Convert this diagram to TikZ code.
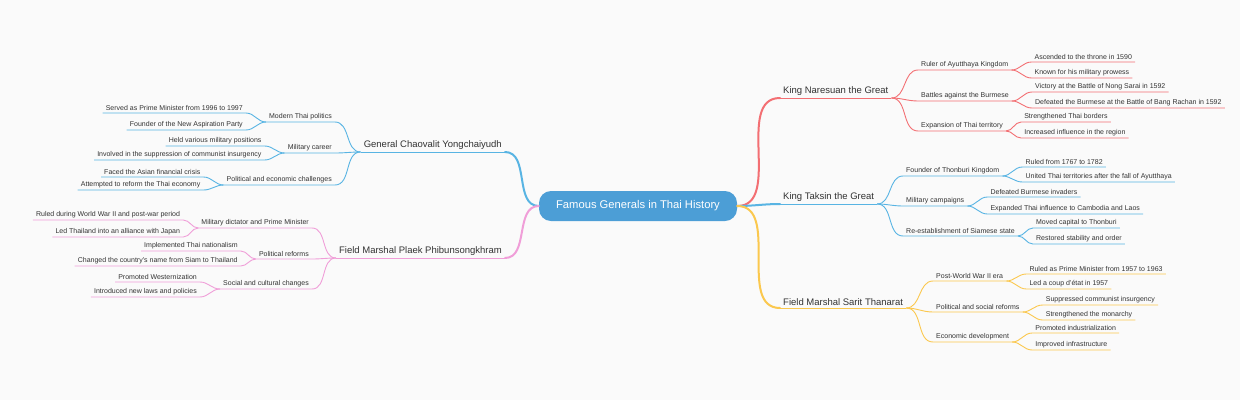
\documentclass[tikz,border=0pt]{standalone}
\usepackage{fontspec}
\setmainfont{Liberation Sans}
\usetikzlibrary{calc,positioning}

\definecolor{naresuan}{HTML}{F36F73}
\definecolor{taksin}{HTML}{58B4E3}
\definecolor{sarit}{HTML}{FBC84E}
\definecolor{plaek}{HTML}{F09ED8}
\definecolor{hub}{HTML}{4C9ED6}

% right-hand and left-hand links: curve from parent, then underline of child
\newcommand{\rlink}[3]{\draw[#1] (#2.south east) to[out=0,in=180] (#3.south west) -- (#3.south east);}
\newcommand{\llink}[3]{\draw[#1] (#2.south west) to[out=180,in=0] (#3.south east) -- (#3.south west);}

\begin{document}
\begin{tikzpicture}[x=1pt, y=-1pt,
    topic/.style={font=\fontsize{9.5}{11}\selectfont, text=black!80, inner xsep=3pt, inner ysep=2.5pt},
    item/.style={font=\fontsize{7}{8}\selectfont, text=black!80, inner xsep=3pt, inner ysep=2pt},
    trunk/.style={line width=2pt, line cap=round},
    twig/.style={line width=0.9pt}]
    \fill[black!2] (0,0) rectangle (1240,400);
    \useasboundingbox (0,0) rectangle (1240,400);

    % Center
    \node[rounded corners=12pt, fill=hub, text=white, minimum width=198pt, minimum height=30pt,
          font=\fontsize{11.2}{13}\selectfont] (title) at (638,206) {Famous Generals in Thai History};

    % King Naresuan the Great
    \node[topic, anchor=south west] (nar) at (780,98) {King Naresuan the Great};
    \draw[naresuan, trunk] (title.east) to[out=0,in=180] (nar.south west);
    \draw[naresuan, twig] (nar.south west) -- (nar.south east);
    \node[item, anchor=south west] (nar1) at (918,70) {Ruler of Ayutthaya Kingdom};
    \node[item, anchor=south west] (nar2) at (918,101) {Battles against the Burmese};
    \node[item, anchor=south west] (nar3) at (918,131) {Expansion of Thai territory};
    \node[item, anchor=south west] (nar1a) at ($(nar1.south east)+(20,-8)$) {Ascended to the throne in 1590};
    \node[item, anchor=south west] (nar1b) at ($(nar1.south east)+(20,8)$) {Known for his military prowess};
    \node[item, anchor=south west] (nar2a) at ($(nar2.south east)+(20,-9)$) {Victory at the Battle of Nong Sarai in 1592};
    \node[item, anchor=south west] (nar2b) at ($(nar2.south east)+(20,7)$) {Defeated the Burmese at the Battle of Bang Rachan in 1592};
    \node[item, anchor=south west] (nar3a) at ($(nar3.south east)+(15,-9)$) {Strengthened Thai borders};
    \node[item, anchor=south west] (nar3b) at ($(nar3.south east)+(15,7)$) {Increased influence in the region};
    \foreach \s in {nar1,nar2,nar3} {\rlink{naresuan, twig}{nar}{\s}}
    \foreach \p/\s in {nar1/nar1a,nar1/nar1b,nar2/nar2a,nar2/nar2b,nar3/nar3a,nar3/nar3b} {\rlink{naresuan, twig}{\p}{\s}}

    % King Taksin the Great
    \node[topic, anchor=south west] (tak) at (780,204) {King Taksin the Great};
    \draw[taksin, trunk] (title.east) to[out=0,in=180] (tak.south west);
    \draw[taksin, twig] (tak.south west) -- (tak.south east);
    \node[item, anchor=south west] (tak1) at (903,176) {Founder of Thonburi Kingdom};
    \node[item, anchor=south west] (tak2) at (903,206) {Military campaigns};
    \node[item, anchor=south west] (tak3) at (903,236) {Re-establishment of Siamese state};
    \node[item, anchor=south west] (tak1a) at ($(tak1.south east)+(20,-9)$) {Ruled from 1767 to 1782};
    \node[item, anchor=south west] (tak1b) at ($(tak1.south east)+(20,6)$) {United Thai territories after the fall of Ayutthaya};
    \node[item, anchor=south west] (tak2a) at ($(tak2.south east)+(20,-9)$) {Defeated Burmese invaders};
    \node[item, anchor=south west] (tak2b) at ($(tak2.south east)+(20,8)$) {Expanded Thai influence to Cambodia and Laos};
    \node[item, anchor=south west] (tak3a) at ($(tak3.south east)+(15,-8)$) {Moved capital to Thonburi};
    \node[item, anchor=south west] (tak3b) at ($(tak3.south east)+(15,8)$) {Restored stability and order};
    \foreach \s in {tak1,tak2,tak3} {\rlink{taksin, twig}{tak}{\s}}
    \foreach \p/\s in {tak1/tak1a,tak1/tak1b,tak2/tak2a,tak2/tak2b,tak3/tak3a,tak3/tak3b} {\rlink{taksin, twig}{\p}{\s}}

    % Field Marshal Sarit Thanarat
    \node[topic, anchor=south west] (sar) at (780,308) {Field Marshal Sarit Thanarat};
    \draw[sarit, trunk] (title.east) to[out=0,in=180] (sar.south west);
    \draw[sarit, twig] (sar.south west) -- (sar.south east);
    \node[item, anchor=south west] (sar1) at (933,281) {Post-World War II era};
    \node[item, anchor=south west] (sar2) at (933,312) {Political and social reforms};
    \node[item, anchor=south west] (sar3) at (933,342) {Economic development};
    \node[item, anchor=south west] (sar1a) at ($(sar1.south east)+(20,-7)$) {Ruled as Prime Minister from 1957 to 1963};
    \node[item, anchor=south west] (sar1b) at ($(sar1.south east)+(20,8)$) {Led a coup d'état in 1957};
    \node[item, anchor=south west] (sar2a) at ($(sar2.south east)+(20,-7)$) {Suppressed communist insurgency};
    \node[item, anchor=south west] (sar2b) at ($(sar2.south east)+(20,8)$) {Strengthened the monarchy};
    \node[item, anchor=south west] (sar3a) at ($(sar3.south east)+(20,-9)$) {Promoted industrialization};
    \node[item, anchor=south west] (sar3b) at ($(sar3.south east)+(20,8)$) {Improved infrastructure};
    \foreach \s in {sar1,sar2,sar3} {\rlink{sarit, twig}{sar}{\s}}
    \foreach \p/\s in {sar1/sar1a,sar1/sar1b,sar2/sar2a,sar2/sar2b,sar3/sar3a,sar3/sar3b} {\rlink{sarit, twig}{\p}{\s}}

    % General Chaovalit Yongchaiyudh
    \node[topic, anchor=south east] (cha) at (505,152) {General Chaovalit Yongchaiyudh};
    \draw[taksin, trunk] (title.west) to[out=180,in=0] (cha.south east);
    \draw[taksin, twig] (cha.south east) -- (cha.south west);
    \node[item, anchor=south east] (cha1) at (335,122) {Modern Thai politics};
    \node[item, anchor=south east] (cha2) at (335,153) {Military career};
    \node[item, anchor=south east] (cha3) at (335,185) {Political and economic challenges};
    \node[item, anchor=south east] (cha1a) at ($(cha1.south west)+(-20,-9)$) {Served as Prime Minister from 1996 to 1997};
    \node[item, anchor=south east] (cha1b) at ($(cha1.south west)+(-20,8)$) {Founder of the New Aspiration Party};
    \node[item, anchor=south east] (cha2a) at ($(cha2.south west)+(-20,-7)$) {Held various military positions};
    \node[item, anchor=south east] (cha2b) at ($(cha2.south west)+(-20,7)$) {Involved in the suppression of communist insurgency};
    \node[item, anchor=south east] (cha3a) at ($(cha3.south west)+(-20,-8)$) {Faced the Asian financial crisis};
    \node[item, anchor=south east] (cha3b) at ($(cha3.south west)+(-20,5)$) {Attempted to reform the Thai economy};
    \foreach \s in {cha1,cha2,cha3} {\llink{taksin, twig}{cha}{\s}}
    \foreach \p/\s in {cha1/cha1a,cha1/cha1b,cha2/cha2a,cha2/cha2b,cha3/cha3a,cha3/cha3b} {\llink{taksin, twig}{\p}{\s}}

    % Field Marshal Plaek Phibunsongkhram
    \node[topic, anchor=south east] (phi) at (505,258) {Field Marshal Plaek Phibunsongkhram};
    \draw[plaek, trunk] (title.west) to[out=180,in=0] (phi.south east);
    \draw[plaek, twig] (phi.south east) -- (phi.south west);
    \node[item, anchor=south east] (phi1) at (312,228) {Military dictator and Prime Minister};
    \node[item, anchor=south east] (phi2) at (312,259) {Political reforms};
    \node[item, anchor=south east] (phi3) at (312,289) {Social and cultural changes};
    \node[item, anchor=south east] (phi1a) at ($(phi1.south west)+(-15,-8)$) {Ruled during World War II and post-war period};
    \node[item, anchor=south east] (phi1b) at ($(phi1.south west)+(-15,9)$) {Led Thailand into an alliance with Japan};
    \node[item, anchor=south east] (phi2a) at ($(phi2.south west)+(-15,-8)$) {Implemented Thai nationalism};
    \node[item, anchor=south east] (phi2b) at ($(phi2.south west)+(-15,7)$) {Changed the country's name from Siam to Thailand};
    \node[item, anchor=south east] (phi3a) at ($(phi3.south west)+(-20,-7)$) {Promoted Westernization};
    \node[item, anchor=south east] (phi3b) at ($(phi3.south west)+(-20,8)$) {Introduced new laws and policies};
    \foreach \s in {phi1,phi2,phi3} {\llink{plaek, twig}{phi}{\s}}
    \foreach \p/\s in {phi1/phi1a,phi1/phi1b,phi2/phi2a,phi2/phi2b,phi3/phi3a,phi3/phi3b} {\llink{plaek, twig}{\p}{\s}}
\end{tikzpicture}
\end{document}
